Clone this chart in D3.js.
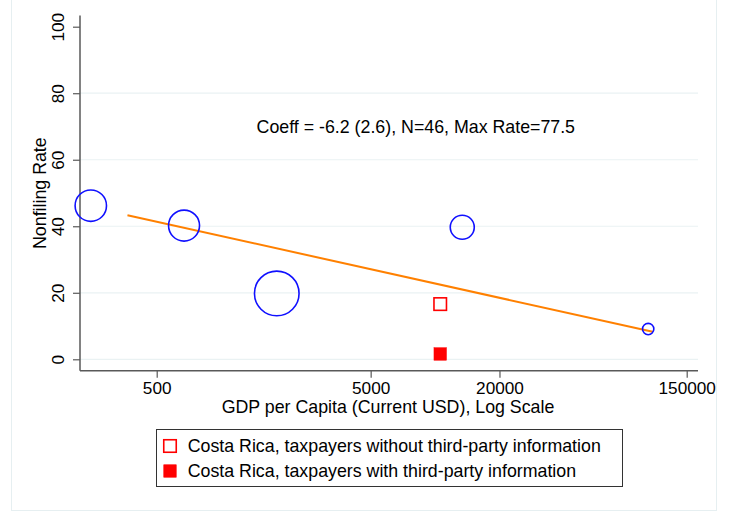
<!DOCTYPE html>
<html>
<head>
<meta charset="utf-8">
<script src="https://cdn.jsdelivr.net/npm/d3@7"></script>
<style>
  html, body { margin: 0; padding: 0; background: #ffffff; }
  svg { display: block; font-family: "Liberation Sans", Arial, sans-serif; }
</style>
</head>
<body>
<script>
// Country groups: GDP per capita (current USD) and nonfiling rate (%), with bubble weights
const countryGdp = [246, 671, 1820, 13400, 99100];
const countryRate = [46.2, 40.2, 19.8, 39.7, 9.1];
const countryWeight = [24.6, 24.0, 49.7, 14.4, 3.2];

// Costa Rica reference points
const crLabels = [
  "Costa Rica, taxpayers without third-party information",
  "Costa Rica, taxpayers with third-party information"
];
const crGdp = [10570, 10570];
const crRate = [16.6, 1.6];

// Log-linear fit: rate = intercept + coeff * ln(gdp)
const fitCoeff = -6.2;
const fitIntercept = 79.9;
const fitRange = [365, 104000];
const annotation = "Coeff = -6.2 (2.6), N=46, Max Rate=77.5";

// Axes
const xTicks = [500, 5000, 20000, 150000];
const yTicks = [0, 20, 40, 60, 80, 100];
const gridTicks = [0, 20, 40, 60, 80];
const xTitle = "GDP per Capita (Current USD), Log Scale";
const yTitle = "Nonfiling Rate";

const W = 729, H = 514;
const plot = { left: 80, right: 698, top: 15.6, bottom: 370.7 };
const fsTick = 17.2, fsText = 17.8;

const svg = d3.select("body").append("svg").attr("width", W).attr("height", H);

// outer frame
svg.append("rect")
  .attr("x", 11.5).attr("y", -10).attr("width", 705).attr("height", 520.5)
  .attr("fill", "#ffffff").attr("stroke", "#e6eff1").attr("stroke-width", 1);

const x = d3.scaleLog().domain([219, 169400]).range([plot.left, plot.right]);
const y = d3.scaleLinear().domain([0, 100]).range([359.3, 26.7]);
const r = d3.scaleSqrt().domain([0, 49.7]).range([0, 22.3]);

// gridlines
svg.append("g").selectAll("line").data(gridTicks).join("line")
  .attr("x1", plot.left).attr("x2", plot.right)
  .attr("y1", d => y(d)).attr("y2", d => y(d))
  .attr("stroke", "#eaf2f3").attr("stroke-width", 1.2);

// y axis
const yAxis = svg.append("g").attr("transform", `translate(${plot.left},0)`)
  .call(d3.axisLeft(y).tickValues(yTicks).tickSize(7).tickFormat(d3.format("d")));
yAxis.select(".domain").remove();
yAxis.append("line").attr("x1", 0).attr("x2", 0).attr("y1", plot.top).attr("y2", plot.bottom)
  .attr("stroke", "#595959").attr("stroke-width", 1.5);
yAxis.selectAll(".tick line").attr("stroke", "#595959").attr("stroke-width", 1.2);
yAxis.selectAll(".tick text")
  .attr("x", 0).attr("y", 0).attr("dy", null)
  .attr("transform", "translate(-16,0) rotate(-90)")
  .attr("text-anchor", "middle")
  .attr("font-size", fsTick).attr("fill", "#000");

// x axis
const xAxis = svg.append("g").attr("transform", `translate(0,${plot.bottom})`)
  .call(d3.axisBottom(x).tickValues(xTicks).tickSize(7).tickFormat(d3.format("d")));
xAxis.select(".domain").remove();
xAxis.append("line").attr("x1", plot.left).attr("x2", plot.right).attr("y1", 0).attr("y2", 0)
  .attr("stroke", "#595959").attr("stroke-width", 1.5);
xAxis.selectAll(".tick line").attr("stroke", "#595959").attr("stroke-width", 1.2);
xAxis.selectAll(".tick text")
  .attr("y", 23.5).attr("dy", null)
  .attr("font-size", fsTick).attr("fill", "#000");

// axis titles
svg.append("text").attr("x", 388).attr("y", 413).attr("text-anchor", "middle")
  .attr("font-size", fsText).text(xTitle);
svg.append("text").attr("transform", `translate(45.5,${(plot.top + plot.bottom) / 2}) rotate(-90)`)
  .attr("text-anchor", "middle").attr("font-size", fsText).text(yTitle);

// fit line
const fitPts = fitRange.map(g => [x(g), y(fitIntercept + fitCoeff * Math.log(g))]);
svg.append("path").attr("d", d3.line()(fitPts))
  .attr("fill", "none").attr("stroke", "#ff8000").attr("stroke-width", 2);

// country bubbles
svg.append("g").selectAll("circle").data(countryGdp).join("circle")
  .attr("cx", d => x(d))
  .attr("cy", (d, i) => y(countryRate[i]))
  .attr("r", (d, i) => r(countryWeight[i]))
  .attr("fill", "none").attr("stroke", "#1010ff").attr("stroke-width", 1.6);

// Costa Rica markers
const sq = 12.5;
const crG = svg.append("g");
crG.selectAll("rect").data(crGdp).join("rect")
  .attr("x", d => x(d) - sq / 2)
  .attr("y", (d, i) => y(crRate[i]) - sq / 2)
  .attr("width", sq).attr("height", sq)
  .attr("fill", (d, i) => i === 0 ? "#ffffff" : "#ff0000")
  .attr("stroke", "#ff0000").attr("stroke-width", (d, i) => i === 0 ? 1.6 : 0.5);

// annotation
svg.append("text").attr("x", 415.8).attr("y", 133).attr("text-anchor", "middle")
  .attr("font-size", fsText).text(annotation);

// legend
const lg = svg.append("g");
lg.append("rect").attr("x", 156.5).attr("y", 429.5).attr("width", 466).attr("height", 57)
  .attr("fill", "#ffffff").attr("stroke", "#333333").attr("stroke-width", 1);
const rowY = [446, 471];
crLabels.forEach((lab, i) => {
  lg.append("rect").attr("x", 170 - sq / 2).attr("y", rowY[i] - sq / 2)
    .attr("width", sq).attr("height", sq)
    .attr("fill", i === 0 ? "#ffffff" : "#ff0000")
    .attr("stroke", "#ff0000").attr("stroke-width", i === 0 ? 1.6 : 0.5);
  lg.append("text").attr("x", 187.7).attr("y", rowY[i] + 6.2)
    .attr("font-size", fsText).text(lab);
});
</script>
</body>
</html>
